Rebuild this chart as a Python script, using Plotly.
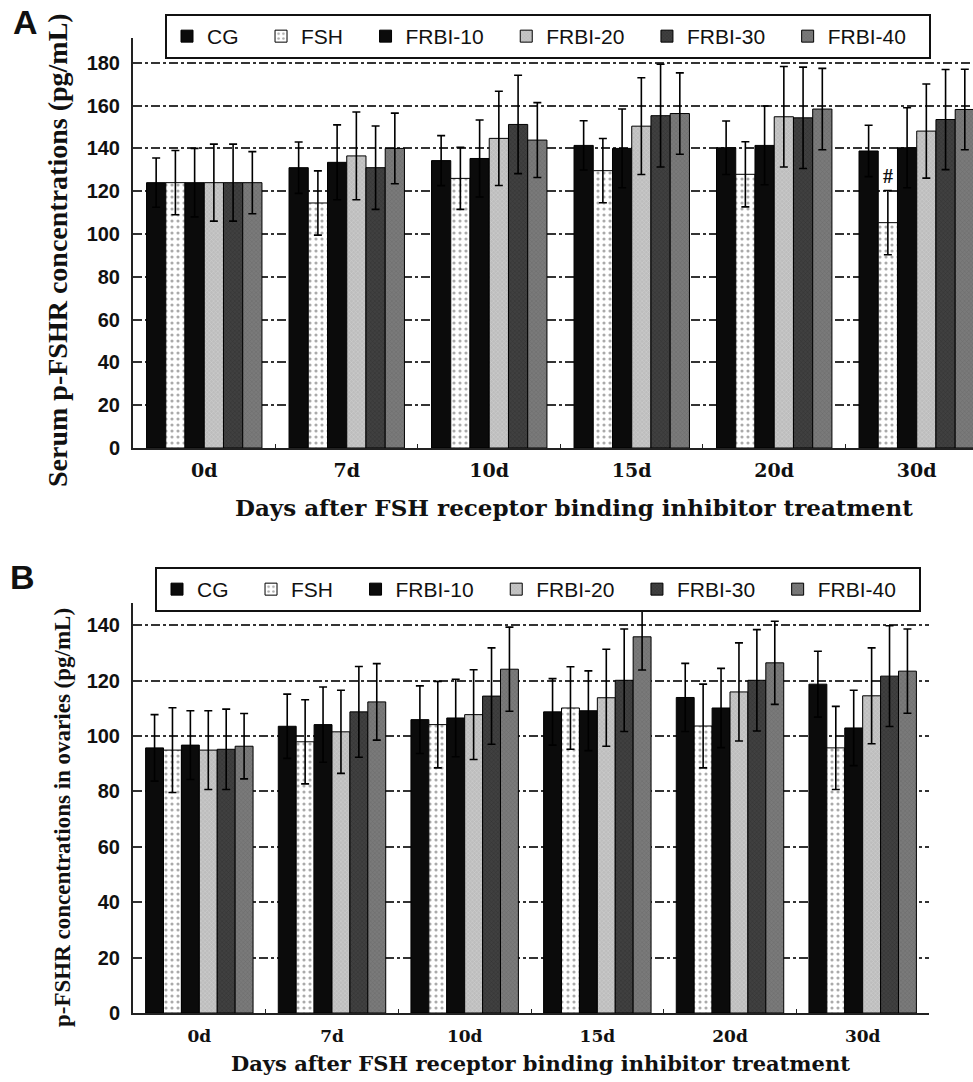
import plotly.graph_objects as go

days = ["0d", "7d", "10d", "15d", "20d", "30d"]
groups = ["CG", "FSH", "FRBI-10", "FRBI-20", "FRBI-30", "FRBI-40"]

# Panel A: serum p-FSHR (pg/mL), mean per group for each day
a_cg = [124, 131, 134.3, 141.4, 140.3, 138.8]
a_fsh = [124, 114.5, 126, 129.6, 127.9, 105.3]
a_f10 = [124, 133.5, 135.3, 140, 141.4, 140.3]
a_f20 = [124, 136.5, 144.7, 150.4, 154.8, 148.1]
a_f30 = [124, 131, 151.2, 155.3, 154.3, 153.5]
a_f40 = [124, 140, 143.9, 156.3, 158.4, 158.2]
a_cg_err = [11.5, 12, 11.7, 11.5, 12.5, 12]
a_fsh_err = [15, 15, 14.5, 15, 15.2, 15]
a_f10_err = [16, 17.5, 18, 18.4, 18.4, 18.7]
a_f20_err = [18, 20.5, 22, 22.6, 23.5, 22]
a_f30_err = [18, 19.5, 23, 24, 23.7, 23.4]
a_f40_err = [14.5, 16.5, 17.5, 19, 19, 18.8]

# Panel B: ovarian p-FSHR (pg/mL)
b_cg = [95.7, 103.5, 105.9, 108.7, 113.9, 118.7]
b_fsh = [94.9, 97.9, 104.1, 110.1, 103.6, 95.7]
b_f10 = [96.7, 104.1, 106.5, 109.1, 110.1, 102.9]
b_f20 = [94.9, 101.5, 107.7, 113.8, 115.9, 114.5]
b_f30 = [95.2, 108.7, 114.4, 120.1, 120.1, 121.6]
b_f40 = [96.3, 112.3, 124.1, 135.8, 126.4, 123.4]
b_cg_err = [12, 11.6, 12.2, 12, 12.3, 11.9]
b_fsh_err = [15.3, 15.2, 15.6, 14.9, 15.1, 15]
b_f10_err = [12.4, 13.6, 14, 14.4, 14.3, 13.6]
b_f20_err = [14.2, 15, 16.2, 17.5, 17.7, 17.3]
b_f30_err = [14.5, 16.4, 17.4, 18.5, 18.3, 18.2]
b_f40_err = [11.8, 13.8, 15.2, 12, 15, 15.2]

y_ticks_a = [0, 20, 40, 60, 80, 100, 120, 140, 160, 180]
y_ticks_b = [0, 20, 40, 60, 80, 100, 120, 140]

a_means = [a_cg, a_fsh, a_f10, a_f20, a_f30, a_f40]
a_errs = [a_cg_err, a_fsh_err, a_f10_err, a_f20_err, a_f30_err, a_f40_err]
b_means = [b_cg, b_fsh, b_f10, b_f20, b_f30, b_f40]
b_errs = [b_cg_err, b_fsh_err, b_f10_err, b_f20_err, b_f30_err, b_f40_err]

styles = [
    dict(color="#0b0b0b", pattern=dict(shape="")),
    dict(color="#ffffff", pattern=dict(shape=".", fgcolor="#555555", bgcolor="#ffffff", size=6, solidity=0.22)),
    dict(color="#0b0b0b", pattern=dict(shape="")),
    dict(color="#c4c4c4", pattern=dict(shape="x", fgcolor="#e4e4e4", bgcolor="#bdbdbd", size=3, solidity=0.3)),
    dict(color="#3a3a3a", pattern=dict(shape="x", fgcolor="#222222", bgcolor="#404040", size=3, solidity=0.3)),
    dict(color="#767676", pattern=dict(shape="x", fgcolor="#5a5a5a", bgcolor="#7a7a7a", size=3, solidity=0.3)),
]

W, H = 973, 1082
PAD = "\u00a0\u00a0\u00a0"
fig = go.Figure()

for i, g in enumerate(groups):
    st = styles[i]
    fig.add_trace(go.Bar(
        x=days, y=a_means[i], name=g + PAD, legend="legend",
        marker=dict(color=st["color"], pattern=st["pattern"], line=dict(color="#000", width=1)),
        error_y=dict(type="data", array=a_errs[i], color="#000", thickness=1.6, width=4),
        xaxis="x", yaxis="y",
    ))
for i, g in enumerate(groups):
    st = styles[i]
    fig.add_trace(go.Bar(
        x=days, y=b_means[i], name=g + PAD, legend="legend2",
        marker=dict(color=st["color"], pattern=st["pattern"], line=dict(color="#000", width=1)),
        error_y=dict(type="data", array=b_errs[i], color="#000", thickness=1.6, width=4),
        xaxis="x2", yaxis="y2",
    ))

bargap = 0.19
x0 = 133 / W

def px_y(top, bottom):
    return [(H - bottom) / H, (H - top) / H]

serif_b = dict(family="Liberation Serif, Times New Roman, serif", weight="bold", color="#111")
wide_serif_b = dict(family="DejaVu Serif, serif", weight="bold", color="#111")
sans_b = dict(family="Liberation Sans, Arial, sans-serif", weight="bold", color="#111")
leg_font = dict(family="Liberation Sans, Arial, sans-serif", size=21, color="#111")

common_x = dict(type="category", showline=True, linecolor="#222", linewidth=2,
                ticks="inside", tickson="boundaries", ticklen=4, tickcolor="#222",
                showgrid=False, zeroline=False)
common_y = dict(showline=True, linecolor="#222", linewidth=2, ticks="",
                showgrid=True, gridcolor="#333", griddash="dashdot", gridwidth=1.6,
                zeroline=False, tickfont=dict(size=20, **sans_b), ticklabelstandoff=7)

fig.update_layout(
    width=W, height=H, autosize=False, margin=dict(l=0, r=0, t=0, b=0, autoexpand=False),
    paper_bgcolor="white", plot_bgcolor="white",
    barmode="group", bargap=bargap, bargroupgap=0,
    xaxis=dict(domain=[x0, 1.0], range=[-0.5, 5.395], anchor="y", ticklabelstandoff=4,
               tickfont=dict(size=19, **wide_serif_b), **common_x),
    yaxis=dict(domain=px_y(38, 448), range=[0, 191.6], tickvals=y_ticks_a, anchor="x", **common_y),
    xaxis2=dict(domain=[x0, 929 / W], range=[-0.5, 5.5], anchor="y2", ticklabelstandoff=7,
                tickfont=dict(size=17, **wide_serif_b), **common_x),
    yaxis2=dict(domain=px_y(603, 1013), range=[0, 148], tickvals=y_ticks_b, anchor="x2", **common_y),
    legend=dict(orientation="h", x=165 / W, y=1 - 14 / H, xanchor="left", yanchor="top",
                bordercolor="#111", borderwidth=2, bgcolor="white", font=leg_font,
                traceorder="normal", itemclick=False),
    legend2=dict(orientation="h", x=155 / W, y=1 - 567 / H, xanchor="left", yanchor="top",
                 bordercolor="#111", borderwidth=2, bgcolor="white", font=leg_font,
                 traceorder="normal", itemclick=False),
    showlegend=True,
)

# '#' marker above FSH bar at 30d in panel A
n = len(groups)
bw = (1 - bargap) / n
idx = days.index("30d")
fsh_off = -(1 - bargap) / 2 + bw * 1.5
fig.add_annotation(x=idx + fsh_off, y=a_fsh[idx] + a_fsh_err[idx], xref="x", yref="y",
                   text="#", showarrow=False, yanchor="bottom", yshift=2,
                   font=dict(size=20, **serif_b))

annots = [
    dict(x=25 / W, y=1 - 22 / H, text="A", font=dict(size=34, **sans_b)),
    dict(x=22 / W, y=1 - 577 / H, text="B", font=dict(size=34, **sans_b)),
    dict(x=57 / W, y=1 - 250 / H, text="Serum p-FSHR concentrations (pg/mL)", textangle=-90,
         font=dict(size=28, **serif_b)),
    dict(x=62 / W, y=1 - 818 / H, text="p-FSHR concentrations in ovaries (pg/mL)", textangle=-90,
         font=dict(size=23, **serif_b)),
    dict(x=574 / W, y=1 - 507 / H, text="Days after FSH receptor binding inhibitor treatment",
         font=dict(size=23, **wide_serif_b)),
    dict(x=540 / W, y=1 - 1063 / H, text="Days after FSH receptor binding inhibitor treatment",
         font=dict(size=21, **wide_serif_b)),
]
for a in annots:
    fig.add_annotation(xref="paper", yref="paper", xanchor="center", yanchor="middle",
                       showarrow=False, **a)

fig.write_html("out.html",
               config={"displayModeBar": False, "responsive": False},
               post_script="document.body.style.margin='0';document.body.style.overflow='hidden';")
